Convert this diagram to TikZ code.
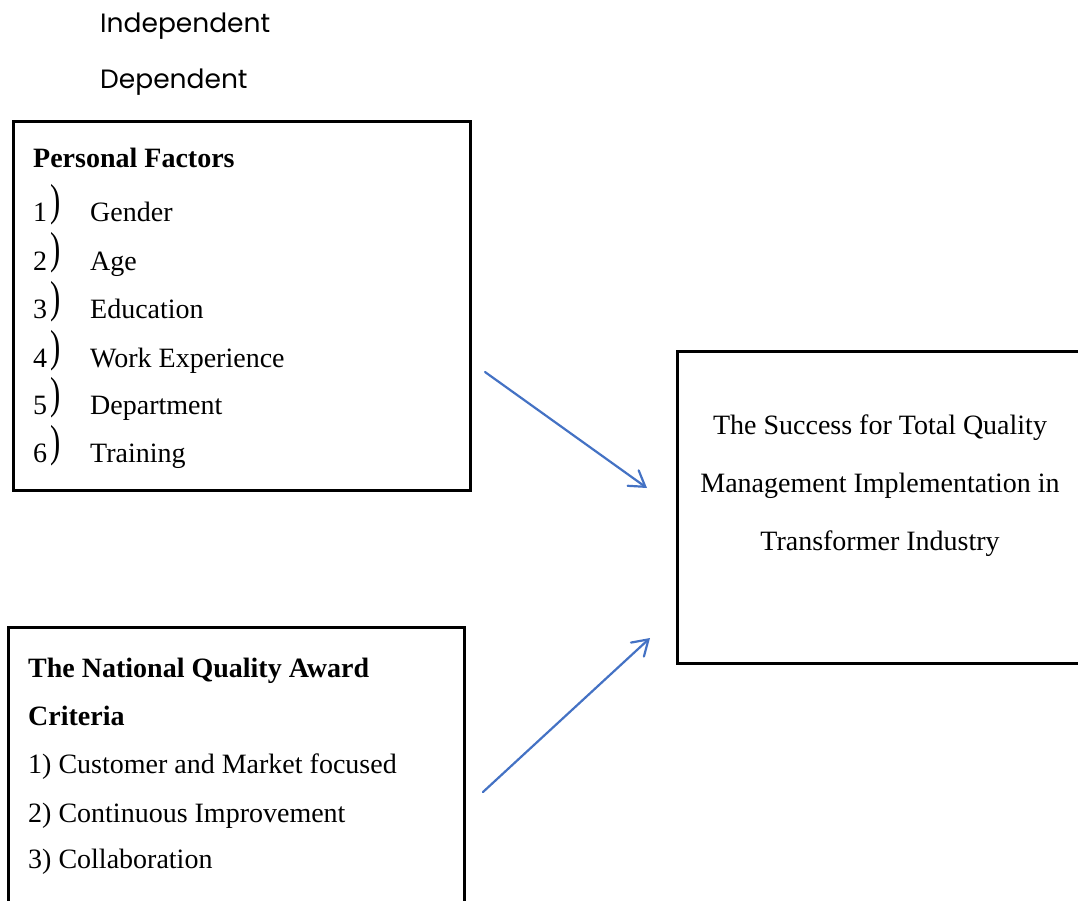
\documentclass[tikz,border=0pt]{standalone}
\usepackage{fontspec}
\setmainfont{Liberation Serif}
\newfontfamily\legendfamily{Poppins}
\usetikzlibrary{arrows.meta}
\definecolor{arrowblue}{HTML}{4472C4}
\tikzset{
  frame/.style={draw=black, line width=2.8pt, inner sep=0pt, anchor=north west},
  body/.style={font=\fontsize{28}{34}\selectfont, inner sep=0pt, anchor=base west},
  head/.style={body, font=\fontsize{28}{34}\selectfont\bfseries},
  midline/.style={font=\fontsize{28}{34}\selectfont, inner sep=0pt, anchor=base},
  legend/.style={font=\legendfamily\fontsize{26.5}{30}\selectfont, inner sep=0pt, anchor=base west},
  link/.style={draw=arrowblue, line width=2.2pt, line cap=round,
    -{Straight Barb[length=15pt,width=19pt,line cap=round]}},
}
% tall, thin closing bracket used after the item numbers
\newcommand{\tallparen}{\scalebox{1.1}[1.6]{)}}
\begin{document}
\begin{tikzpicture}[x=1pt, y=-1pt]
\useasboundingbox (0,0) rectangle (1078,901);
\clip (0,0) rectangle (1078,901);

% legend words
\node[legend] (indep) at (100,33) {Independent};
\node[legend] (dep) at (100,89) {Dependent};

% frames
\node[frame, minimum width=457pt, minimum height=369pt] (pf) at (12,120) {};
\node[frame, minimum width=456pt, minimum height=330pt] (nqa) at (7,626) {};
\node[frame, minimum width=460pt, minimum height=312pt] (tqm) at (676,350) {};

% personal factors
\node[head] (pfhead) at (33,168) {Personal Factors};
\foreach \yy/\num/\txt [count=\i] in {222/1/Gender, 270/2/Age, 318/3/Education,
    367/4/Work Experience, 414/5/Department, 462/6/Training} {
  \node[body] (pfn\i) at (33,\yy) {\num};
  \node[body] (pfp\i) at (50,\yy-6) {\tallparen};
  \node[body] (pft\i) at (90,\yy) {\txt};
}

% award criteria
\node[head] (nqahead1) at (28,677) {The National Quality Award};
\node[head] (nqahead2) at (28,725) {Criteria};
\node[body] (nqa1) at (28,773) {1) Customer and Market focused};
\node[body] (nqa2) at (28,822) {2) Continuous Improvement};
\node[body] (nqa3) at (28,868) {3) Collaboration};

% outcome
\node[midline] (tqm1) at (880,434) {The Success for Total Quality};
\node[midline] (tqm2) at (880,492) {Management Implementation in};
\node[midline] (tqm3) at (880,550) {Transformer Industry};

% links
\coordinate (l1s) at (485,372);
\coordinate (l1e) at (647,488);
\coordinate (l2s) at (483,792);
\coordinate (l2e) at (650,638);
\draw[link] (l1s) -- (l1e);
\draw[link] (l2s) -- (l2e);
\end{tikzpicture}
\end{document}
